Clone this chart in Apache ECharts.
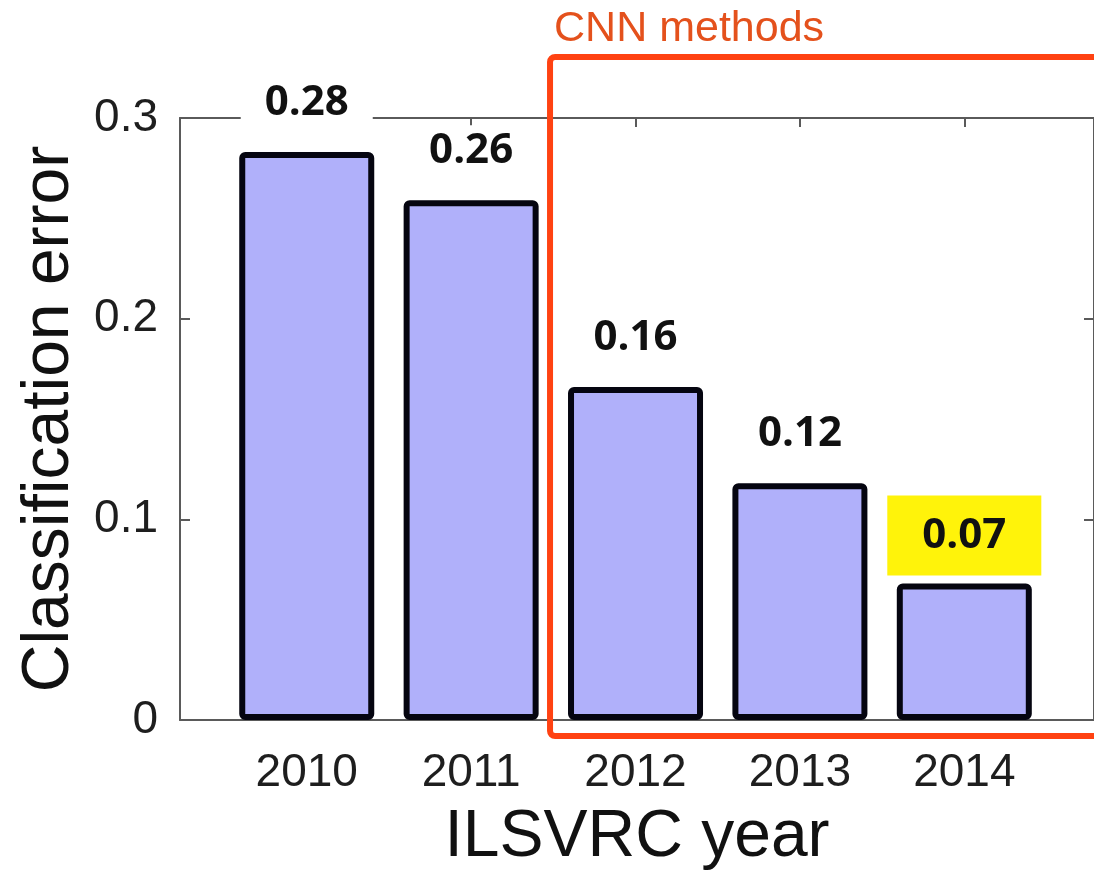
<!DOCTYPE html>
<html>
<head>
<meta charset="utf-8">
<script src="https://cdn.jsdelivr.net/npm/echarts@6/dist/echarts.min.js"></script>
<style>
html,body{margin:0;padding:0;background:#fff;}
#chart{width:1094px;height:877px;}
</style>
</head>
<body>
<div id="chart"></div>
<script>
// ---- data ----
const years = [2010, 2011, 2012, 2013, 2014];
const errors = [0.283, 0.259, 0.166, 0.118, 0.068];
const errorLabels = ['0.28', '0.26', '0.16', '0.12', '0.07'];
const yTicks = [0, 0.1, 0.2, 0.3];
const xRange = [2009.229, 2014.789];
const cnnStartYear = 2011.48;
const annotationText = 'CNN methods';

const chart = echarts.init(document.getElementById('chart'));
const axisColor = '#5a5a5a';
const tickFont = 'Liberation Sans, Arial, Helvetica, sans-serif';

const barData = years.map((y, i) => {
  const hl = i === years.length - 1;
  return {
    value: [y, errors[i]],
    label: hl ? {
      backgroundColor: '#FFF30A',
      padding: [19, 35],
      distance: 8
    } : {}
  };
});

const frameAxis = {
  splitLine: { show: false },
  axisLine: { show: true, onZero: false, lineStyle: { color: axisColor, width: 2 } }
};

const option = {
  animation: false,
  backgroundColor: '#fff',
  grid: { left: 180, top: 118, width: 916, height: 602, containLabel: false },
  xAxis: [
    Object.assign({
      type: 'value', position: 'bottom', min: xRange[0], max: xRange[1],
      axisTick: { show: true, inside: true, length: 9, customValues: years, lineStyle: { color: axisColor, width: 2 } },
      axisLabel: { customValues: years, formatter: v => String(v), fontFamily: tickFont, fontSize: 46, color: '#1e1e1e', margin: 30 },
      name: 'ILSVRC year', nameLocation: 'middle', nameGap: 85,
      nameTextStyle: { fontFamily: tickFont, fontSize: 66, color: '#111' }
    }, frameAxis),
    Object.assign({
      type: 'value', position: 'top', min: xRange[0], max: xRange[1],
      axisTick: { show: true, inside: true, length: 9, customValues: years, lineStyle: { color: axisColor, width: 2 } },
      axisLabel: { show: false }
    }, frameAxis)
  ],
  yAxis: [
    Object.assign({
      type: 'value', position: 'left', min: yTicks[0], max: yTicks[yTicks.length - 1], interval: 0.1,
      axisTick: { show: true, inside: true, length: 10, lineStyle: { color: axisColor, width: 2 } },
      axisLabel: { fontFamily: tickFont, fontSize: 46, color: '#1e1e1e', margin: 22, padding: [12, 0, 0, 0],
        formatter: v => String(Math.round(v * 10) / 10) },
      name: 'Classification error', nameLocation: 'middle', nameGap: 90, nameRotate: 90,
      nameTextStyle: { fontFamily: tickFont, fontSize: 66, color: '#111' }
    }, frameAxis),
    Object.assign({
      type: 'value', position: 'right', min: yTicks[0], max: yTicks[yTicks.length - 1], interval: 0.1,
      axisTick: { show: true, inside: true, length: 10, lineStyle: { color: axisColor, width: 2 } },
      axisLabel: { show: false }
    }, frameAxis)
  ],
  series: [
    {
      type: 'bar',
      xAxisIndex: 0, yAxisIndex: 0,
      barWidth: 135,
      data: barData,
      itemStyle: { color: '#B0B0FA', borderColor: '#050510', borderWidth: 6, borderRadius: 3 },
      label: {
        show: true, position: 'top', distance: 23,
        formatter: p => errorLabels[p.dataIndex],
        fontFamily: 'Open Sans, Lato, sans-serif', fontWeight: 'bold', fontSize: 42, lineHeight: 42,
        color: '#111', backgroundColor: '#fff', padding: [5, 24]
      },
      z: 3
    }
  ]
};
chart.setOption(option);

// annotation box around the CNN years, positioned from axis values
const pTop = chart.convertToPixel({ xAxisIndex: 0, yAxisIndex: 0 }, [cnnStartYear, 0.3304]);
const pBot = chart.convertToPixel({ xAxisIndex: 0, yAxisIndex: 0 }, [xRange[1], -0.008]);
chart.setOption({
  graphic: [
    {
      type: 'rect', z: 10,
      shape: { x: pTop[0], y: pTop[1], width: pBot[0] - pTop[0] + 40, height: pBot[1] - pTop[1], r: 5 },
      style: { fill: 'none', stroke: '#FF4212', lineWidth: 6 }
    },
    {
      type: 'text', z: 10,
      x: pTop[0] + 4, y: pTop[1] - 28,
      style: { text: annotationText, fill: '#E4511C', font: '43px "Liberation Sans", Arial, sans-serif',
        textAlign: 'left', textVerticalAlign: 'middle' }
    }
  ]
});
</script>
</body>
</html>
